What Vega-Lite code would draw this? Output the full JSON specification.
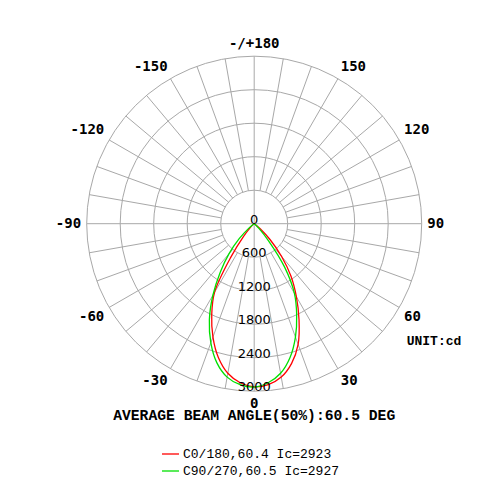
{
  "$schema": "https://vega.github.io/schema/vega-lite/v6.json",
  "width": 500,
  "height": 500,
  "autosize": {"type": "none"},
  "padding": 0,
  "background": "white",
  "config": {"view": {"stroke": null}},
  "datasets": {
    "rings": [{"ring": 0}, {"ring": 600}, {"ring": 1200}, {"ring": 1800}, {"ring": 2400}, {"ring": 3000}],
    "spokes": [{"angle": 0}, {"angle": 10}, {"angle": 20}, {"angle": 30}, {"angle": 40}, {"angle": 50}, {"angle": 60}, {"angle": 70}, {"angle": 80}, {"angle": 90}, {"angle": 100}, {"angle": 110}, {"angle": 120}, {"angle": 130}, {"angle": 140}, {"angle": 150}, {"angle": 160}, {"angle": 170}, {"angle": 180}, {"angle": 190}, {"angle": 200}, {"angle": 210}, {"angle": 220}, {"angle": 230}, {"angle": 240}, {"angle": 250}, {"angle": 260}, {"angle": 270}, {"angle": 280}, {"angle": 290}, {"angle": 300}, {"angle": 310}, {"angle": 320}, {"angle": 330}, {"angle": 340}, {"angle": 350}],
    "anglabels": [{"angle": 0, "label": "0"}, {"angle": 30, "label": "30"}, {"angle": 60, "label": "60"}, {"angle": 90, "label": "90"}, {"angle": 120, "label": "120"}, {"angle": 150, "label": "150"}, {"angle": 180, "label": "-/+180"}, {"angle": -150, "label": "-150"}, {"angle": -120, "label": "-120"}, {"angle": -90, "label": "-90"}, {"angle": -60, "label": "-60"}, {"angle": -30, "label": "-30"}],
    "lobes": [
      {"series": "C0/180,60.4 Ic=2923", "angle": -60, "cd": 0},
      {"series": "C0/180,60.4 Ic=2923", "angle": -55, "cd": 10},
      {"series": "C0/180,60.4 Ic=2923", "angle": -50, "cd": 40},
      {"series": "C0/180,60.4 Ic=2923", "angle": -45, "cd": 100},
      {"series": "C0/180,60.4 Ic=2923", "angle": -40, "cd": 300},
      {"series": "C0/180,60.4 Ic=2923", "angle": -35, "cd": 720},
      {"series": "C0/180,60.4 Ic=2923", "angle": -30, "cd": 1420},
      {"series": "C0/180,60.4 Ic=2923", "angle": -25, "cd": 1800},
      {"series": "C0/180,60.4 Ic=2923", "angle": -20, "cd": 2160},
      {"series": "C0/180,60.4 Ic=2923", "angle": -15, "cd": 2480},
      {"series": "C0/180,60.4 Ic=2923", "angle": -10, "cd": 2720},
      {"series": "C0/180,60.4 Ic=2923", "angle": -5, "cd": 2860},
      {"series": "C0/180,60.4 Ic=2923", "angle": 0, "cd": 2923},
      {"series": "C0/180,60.4 Ic=2923", "angle": 5, "cd": 2895},
      {"series": "C0/180,60.4 Ic=2923", "angle": 10, "cd": 2790},
      {"series": "C0/180,60.4 Ic=2923", "angle": 15, "cd": 2590},
      {"series": "C0/180,60.4 Ic=2923", "angle": 20, "cd": 2300},
      {"series": "C0/180,60.4 Ic=2923", "angle": 25, "cd": 1900},
      {"series": "C0/180,60.4 Ic=2923", "angle": 30, "cd": 1510},
      {"series": "C0/180,60.4 Ic=2923", "angle": 35, "cd": 1150},
      {"series": "C0/180,60.4 Ic=2923", "angle": 40, "cd": 760},
      {"series": "C0/180,60.4 Ic=2923", "angle": 45, "cd": 400},
      {"series": "C0/180,60.4 Ic=2923", "angle": 50, "cd": 140},
      {"series": "C0/180,60.4 Ic=2923", "angle": 55, "cd": 30},
      {"series": "C0/180,60.4 Ic=2923", "angle": 60, "cd": 0},
      {"series": "C90/270,60.5 Ic=2927", "angle": -60, "cd": 0},
      {"series": "C90/270,60.5 Ic=2927", "angle": -55, "cd": 30},
      {"series": "C90/270,60.5 Ic=2927", "angle": -50, "cd": 130},
      {"series": "C90/270,60.5 Ic=2927", "angle": -45, "cd": 380},
      {"series": "C90/270,60.5 Ic=2927", "angle": -40, "cd": 700},
      {"series": "C90/270,60.5 Ic=2927", "angle": -35, "cd": 1060},
      {"series": "C90/270,60.5 Ic=2927", "angle": -30, "cd": 1480},
      {"series": "C90/270,60.5 Ic=2927", "angle": -25, "cd": 1900},
      {"series": "C90/270,60.5 Ic=2927", "angle": -20, "cd": 2270},
      {"series": "C90/270,60.5 Ic=2927", "angle": -15, "cd": 2580},
      {"series": "C90/270,60.5 Ic=2927", "angle": -10, "cd": 2790},
      {"series": "C90/270,60.5 Ic=2927", "angle": -5, "cd": 2895},
      {"series": "C90/270,60.5 Ic=2927", "angle": 0, "cd": 2927},
      {"series": "C90/270,60.5 Ic=2927", "angle": 5, "cd": 2860},
      {"series": "C90/270,60.5 Ic=2927", "angle": 10, "cd": 2720},
      {"series": "C90/270,60.5 Ic=2927", "angle": 15, "cd": 2480},
      {"series": "C90/270,60.5 Ic=2927", "angle": 20, "cd": 2160},
      {"series": "C90/270,60.5 Ic=2927", "angle": 25, "cd": 1800},
      {"series": "C90/270,60.5 Ic=2927", "angle": 30, "cd": 1440},
      {"series": "C90/270,60.5 Ic=2927", "angle": 35, "cd": 950},
      {"series": "C90/270,60.5 Ic=2927", "angle": 40, "cd": 400},
      {"series": "C90/270,60.5 Ic=2927", "angle": 45, "cd": 120},
      {"series": "C90/270,60.5 Ic=2927", "angle": 50, "cd": 30},
      {"series": "C90/270,60.5 Ic=2927", "angle": 55, "cd": 0},
      {"series": "C90/270,60.5 Ic=2927", "angle": 60, "cd": 0}
    ]
  },
  "layer": [
    {
      "data": {"name": "rings"},
      "transform": [{"filter": "datum.ring > 0"}],
      "mark": {"type": "point", "shape": "circle", "filled": false, "stroke": "#a8a8a8", "strokeWidth": 1, "opacity": 1},
      "encoding": {
        "x": {"datum": 0, "type": "quantitative", "scale": {"domain": [-4552.8, 4402.4], "nice": false, "zero": false}, "axis": null},
        "y": {"datum": 0, "type": "quantitative", "scale": {"domain": [-4948.7, 4006.6], "nice": false, "zero": false}, "axis": null},
        "size": {"field": "ring", "type": "quantitative", "scale": {"type": "pow", "exponent": 2, "domain": [0, 3000], "range": [0, 112225], "zero": true}, "legend": null}
      }
    },
    {
      "data": {"name": "spokes"},
      "transform": [
        {"calculate": "datum.angle % 90 == 0 ? 0 : 600", "as": "r0"},
        {"calculate": "datum.r0 * sin(datum.angle * PI / 180)", "as": "x"},
        {"calculate": "-datum.r0 * cos(datum.angle * PI / 180)", "as": "y"},
        {"calculate": "3000 * sin(datum.angle * PI / 180)", "as": "x2"},
        {"calculate": "-3000 * cos(datum.angle * PI / 180)", "as": "y2"}
      ],
      "mark": {"type": "rule", "stroke": "#a8a8a8", "strokeWidth": 1},
      "encoding": {
        "x": {"field": "x", "type": "quantitative", "scale": {"domain": [-4552.8, 4402.4], "nice": false, "zero": false}, "axis": null},
        "y": {"field": "y", "type": "quantitative", "scale": {"domain": [-4948.7, 4006.6], "nice": false, "zero": false}, "axis": null},
        "x2": {"field": "x2"},
        "y2": {"field": "y2"}
      }
    },
    {
      "data": {"name": "lobes"},
      "transform": [
        {"calculate": "datum.cd * sin(datum.angle * PI / 180)", "as": "x"},
        {"calculate": "-datum.cd * cos(datum.angle * PI / 180)", "as": "y"}
      ],
      "mark": {"type": "line", "strokeWidth": 1.3, "interpolate": "catmull-rom"},
      "encoding": {
        "x": {"field": "x", "type": "quantitative", "scale": {"domain": [-4552.8, 4402.4], "nice": false, "zero": false}, "axis": null},
        "y": {"field": "y", "type": "quantitative", "scale": {"domain": [-4948.7, 4006.6], "nice": false, "zero": false}, "axis": null},
        "order": {"field": "angle", "type": "quantitative"},
        "color": {
          "field": "series", "type": "nominal",
          "scale": {"domain": ["C0/180,60.4 Ic=2923", "C90/270,60.5 Ic=2927"], "range": ["#ff0000", "#00e000"]},
          "legend": {"orient": "none", "legendX": 161, "legendY": 444.5, "title": null, "symbolType": "stroke", "symbolSize": 289, "symbolStrokeWidth": 1.3, "labelFont": "Liberation Mono", "labelFontSize": 13, "labelColor": "#000000", "labelOffset": 3, "rowPadding": 0, "padding": 0}
        }
      }
    },
    {
      "data": {"name": "rings"},
      "transform": [{"calculate": "-datum.ring", "as": "y"}],
      "mark": {"type": "text", "font": "DejaVu Sans", "fontSize": 13, "align": "center", "baseline": "alphabetic", "color": "#000000"},
      "encoding": {
        "x": {"datum": 0, "type": "quantitative", "scale": {"domain": [-4552.8, 4402.4], "nice": false, "zero": false}, "axis": null},
        "y": {"field": "y", "type": "quantitative", "scale": {"domain": [-4948.7, 4006.6], "nice": false, "zero": false}, "axis": null},
        "text": {"field": "ring", "type": "quantitative", "format": "d"}
      }
    },
    {
      "data": {"name": "anglabels"},
      "transform": [
        {"calculate": "3100 * sin(datum.angle * PI / 180)", "as": "x"},
        {"calculate": "-3100 * cos(datum.angle * PI / 180)", "as": "y"}
      ],
      "mark": {
        "type": "text", "font": "DejaVu Sans Mono", "fontWeight": "bold", "fontSize": 14, "color": "#000000",
        "align": {"expr": "datum.angle == 0 || datum.angle == 180 ? 'center' : (datum.angle > 0 ? 'left' : 'right')"},
        "baseline": {"expr": "abs(datum.angle) == 90 ? 'middle' : (abs(datum.angle) > 90 ? 'bottom' : 'top')"}
      },
      "encoding": {
        "x": {"field": "x", "type": "quantitative", "scale": {"domain": [-4552.8, 4402.4], "nice": false, "zero": false}, "axis": null},
        "y": {"field": "y", "type": "quantitative", "scale": {"domain": [-4948.7, 4006.6], "nice": false, "zero": false}, "axis": null},
        "text": {"field": "label", "type": "nominal"}
      }
    },
    {
      "data": {"values": [{"note": "UNIT:cd"}]},
      "mark": {"type": "text", "font": "Liberation Mono", "fontWeight": "bold", "fontSize": 13, "align": "left", "baseline": "middle", "color": "#000000"},
      "encoding": {
        "x": {"datum": 2731, "type": "quantitative", "scale": {"domain": [-4552.8, 4402.4], "nice": false, "zero": false}, "axis": null},
        "y": {"datum": -2095, "type": "quantitative", "scale": {"domain": [-4948.7, 4006.6], "nice": false, "zero": false}, "axis": null},
        "text": {"field": "note", "type": "nominal"}
      }
    },
    {
      "data": {"values": [{"note": "AVERAGE BEAM ANGLE(50%):60.5 DEG"}]},
      "mark": {"type": "text", "font": "Liberation Mono", "fontWeight": "bold", "fontSize": 14.7, "align": "center", "baseline": "middle", "color": "#000000"},
      "encoding": {
        "x": {"datum": 0, "type": "quantitative", "scale": {"domain": [-4552.8, 4402.4], "nice": false, "zero": false}, "axis": null},
        "y": {"datum": -3450, "type": "quantitative", "scale": {"domain": [-4948.7, 4006.6], "nice": false, "zero": false}, "axis": null},
        "text": {"field": "note", "type": "nominal"}
      }
    }
  ]
}
